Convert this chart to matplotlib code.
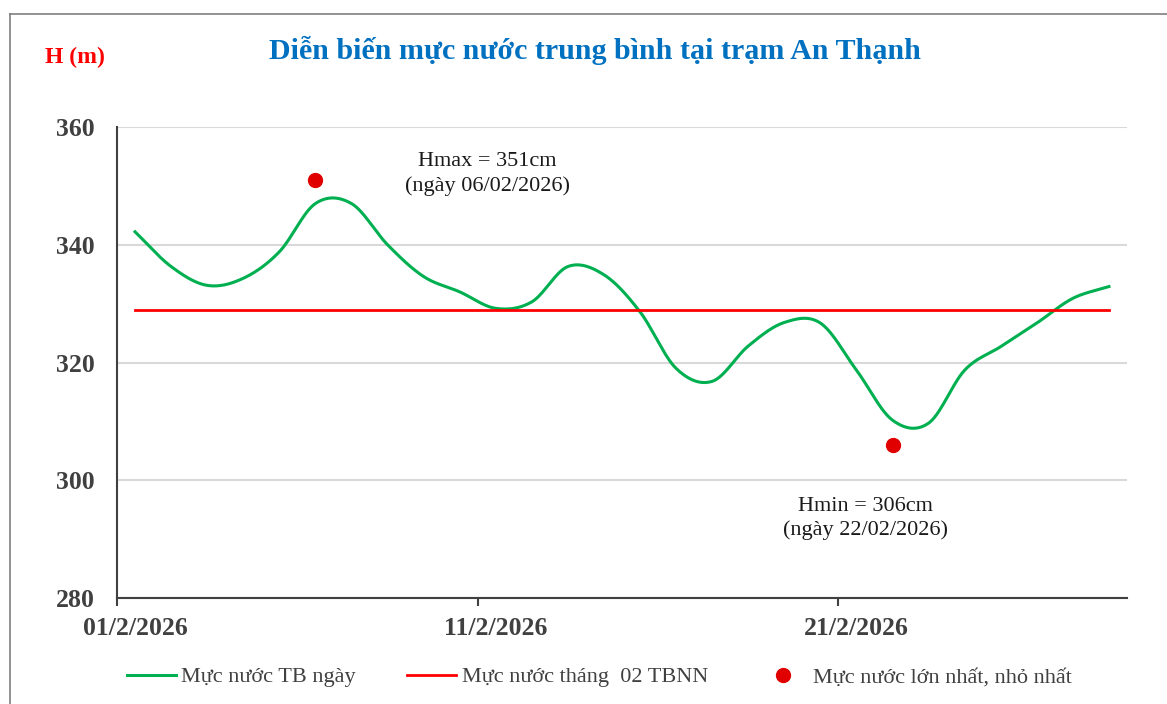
import numpy as np
import matplotlib.pyplot as plt
from matplotlib.lines import Line2D

# du lieu muc nuoc trung binh ngay, thang 02/2026 (cm)
dates = ['%02d/2/2026' % d for d in range(1, 29)]
h_daily = [342.2, 336.3, 333.1, 334.3, 338.8, 347.0, 347.0, 340.0, 334.6, 332.0,
           329.2, 330.3, 336.3, 334.9, 328.6, 319.0, 316.8, 322.8, 326.8, 326.7,
           318.7, 310.2, 309.7, 318.7, 322.7, 326.7, 330.9, 332.9]
h_tbnn = 329.0
extreme_days = [6, 22]
extreme_vals = [351, 306]
extreme_text = ['Hmax = 351cm\n(ngày 06/02/2026)', 'Hmin = 306cm\n(ngày 22/02/2026)']
xtick_labels = ['01/2/2026', '11/2/2026', '21/2/2026']

title = 'Diễn biến mực nước trung bình tại trạm An Thạnh'
serif = ['Liberation Serif', 'DejaVu Serif']
gray = '#404040'


def catmull_rom(x, y, n=30):
    # duong cong muot di qua cac diem, giong kieu smooth line cua Excel
    x = np.asarray(x, float)
    y = np.asarray(y, float)
    px = np.concatenate([[2 * x[0] - x[1]], x, [2 * x[-1] - x[-2]]])
    py = np.concatenate([[2 * y[0] - y[1]], y, [2 * y[-1] - y[-2]]])
    xs, ys = [], []
    t = np.linspace(0, 1, n, endpoint=False)
    for i in range(1, len(px) - 2):
        for p, out in ((px, xs), (py, ys)):
            p0, p1, p2, p3 = p[i - 1], p[i], p[i + 1], p[i + 2]
            out.extend(0.5 * ((2 * p1) + (-p0 + p2) * t
                              + (2 * p0 - 5 * p1 + 4 * p2 - p3) * t ** 2
                              + (-p0 + 3 * p1 - 3 * p2 + p3) * t ** 3))
    xs.append(x[-1])
    ys.append(y[-1])
    return np.array(xs), np.array(ys)


day_idx = np.arange(1, len(dates) + 1)
sx, sy = catmull_rom(day_idx, h_daily)

fig = plt.figure(figsize=(11.67, 7.04), dpi=100)
ax = fig.add_axes([117 / 1167, 1 - 598 / 704, 1010 / 1167, 471 / 704])

ax.plot(sx, sy, color='#00B050', lw=2.2, label='Mực nước TB ngày')
ax.plot([day_idx[0], day_idx[-1]], [h_tbnn, h_tbnn], color='#FF0000', lw=2,
        label='Mực nước tháng  02 TBNN')
ax.plot(extreme_days, extreme_vals, 'o', color='#E00000', ms=10, ls='none',
        label='Mực nước lớn nhất, nhỏ nhất')

ax.text(10.76, 352.0, extreme_text[0], ha='center', va='center', fontsize=16,
        family=serif, color='#1a1a1a', linespacing=1.32)
ax.text(21.24, 293.5, extreme_text[1], ha='center', va='center', fontsize=16,
        family=serif, color='#1a1a1a', linespacing=1.32)

ax.set_xlim(0.5, len(dates) + 0.5)
ax.set_ylim(280, 360)
ax.set_yticks([280, 300, 320, 340, 360])
ax.set_xticks([0.5, 10.5, 20.5])
ax.set_xticklabels([])
ax.set_xticks([1, 11, 21], minor=True)
ax.set_xticklabels(xtick_labels, minor=True)
ax.tick_params(axis='x', which='major', length=6, width=1.5, color=gray)
ax.tick_params(axis='x', which='minor', length=0, pad=14)
ax.tick_params(axis='y', length=0, pad=16)
for lab in ax.get_xticklabels(minor=True) + ax.get_yticklabels():
    lab.set_family(serif)
    lab.set_fontweight('bold')
    lab.set_fontsize(18.5)
    lab.set_color(gray)

ax.grid(axis='y', color='#D9D9D9', lw=1.5)
ax.set_axisbelow(True)
for s in ['top', 'right']:
    ax.spines[s].set_visible(False)
ax.spines['left'].set_color(gray)
ax.spines['bottom'].set_color(gray)
ax.spines['left'].set_linewidth(1.5)
ax.spines['bottom'].set_linewidth(1.5)

fig.text(595 / 1167, 1 - 50 / 704, title, ha='center', va='center', fontsize=21.6,
         fontweight='bold', family=serif, color='#0070C0')
fig.text(75 / 1167, 1 - 57 / 704, 'H (m)', ha='center', va='center', fontsize=17,
         fontweight='bold', family=serif, color='#FF0000')

leg = ax.legend(loc='center left', bbox_to_anchor=(127 / 1167, 1 - 677 / 704),
                bbox_transform=fig.transFigure, ncol=3, frameon=False,
                prop={'family': serif, 'size': 16}, handlelength=2.2,
                handletextpad=0.25, columnspacing=2.3, borderpad=0, borderaxespad=0)
for t in leg.get_texts():
    t.set_color(gray)

# khung vien bieu do
fig.add_artist(Line2D([10 / 1167, 10 / 1167], [0, 1 - 14 / 704], color='#7f7f7f', lw=1.2))
fig.add_artist(Line2D([10 / 1167, 1], [1 - 14 / 704, 1 - 14 / 704], color='#7f7f7f', lw=1.2))

fig.savefig('out.png', dpi=100)
